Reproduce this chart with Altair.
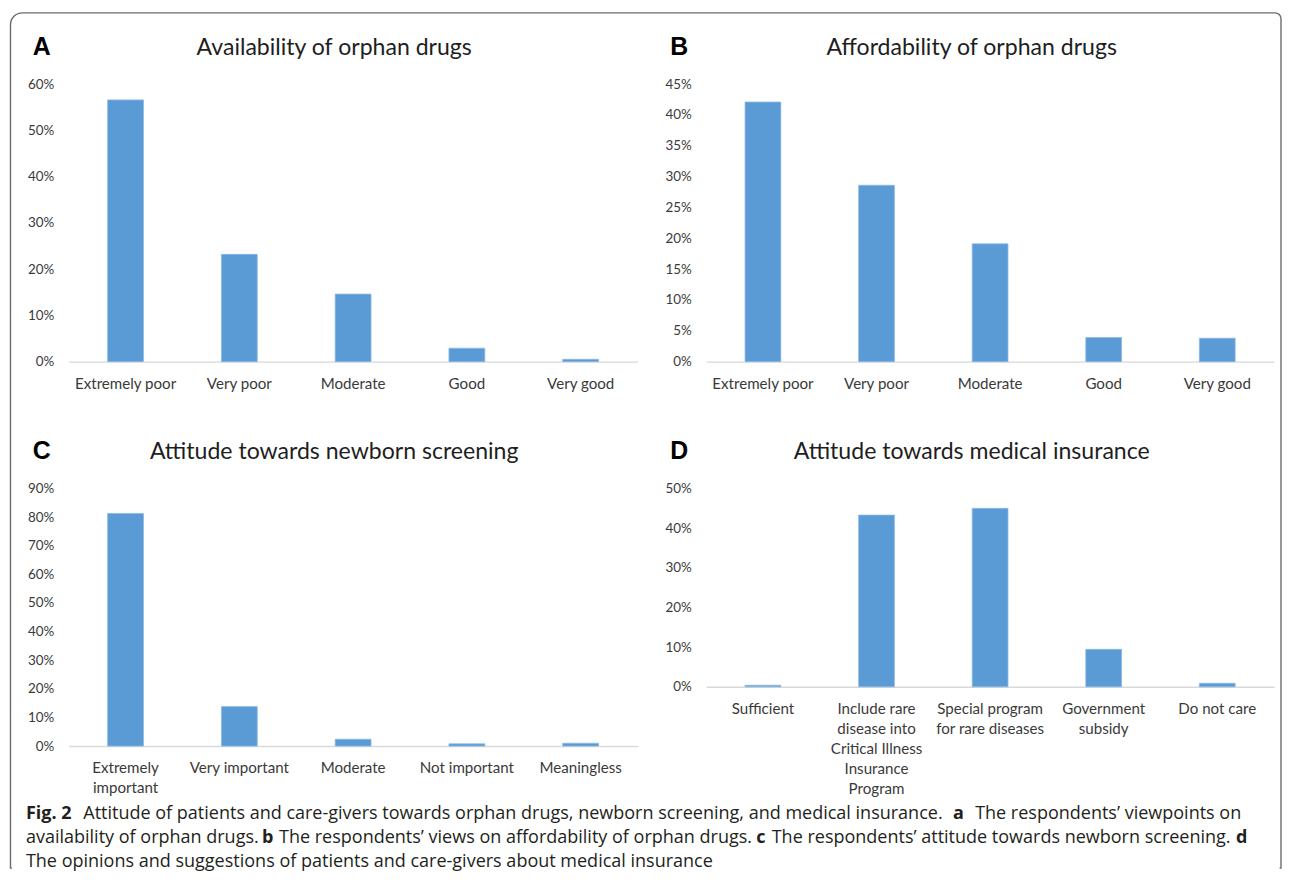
import altair as alt
import pandas as pd

# ---------------- data ----------------
cats_a = ["Extremely poor", "Very poor", "Moderate", "Good", "Very good"]
vals_a = [0.566, 0.232, 0.146, 0.029, 0.005]
ticks_a = [0.0, 0.1, 0.2, 0.3, 0.4, 0.5, 0.6]

cats_b = ["Extremely poor", "Very poor", "Moderate", "Good", "Very good"]
vals_b = [0.421, 0.286, 0.191, 0.039, 0.038]
ticks_b = [0.0, 0.05, 0.10, 0.15, 0.20, 0.25, 0.30, 0.35, 0.40, 0.45]

cats_c = ["Extremely|important", "Very important", "Moderate", "Not important", "Meaningless"]
vals_c = [0.813, 0.138, 0.024, 0.008, 0.010]
ticks_c = [0.0, 0.1, 0.2, 0.3, 0.4, 0.5, 0.6, 0.7, 0.8, 0.9]

cats_d = ["Sufficient",
          "Include rare|disease into|Critical Illness|Insurance|Program",
          "Special program|for rare diseases",
          "Government|subsidy",
          "Do not care"]
vals_d = [0.004, 0.433, 0.450, 0.0945, 0.009]
ticks_d = [0.0, 0.1, 0.2, 0.3, 0.4, 0.5]

titles = ["Availability of orphan drugs", "Affordability of orphan drugs",
          "Attitude towards newborn screening", "Attitude towards medical insurance"]
letters = ["A", "B", "C", "D"]

caption_runs = [
    # (text, bold, line)
    ("Fig. 2", True, 0),
    ("Attitude of patients and care-givers towards orphan drugs, newborn screening, and medical insurance.", False, 0),
    ("a", True, 0),
    ("The respondents\u2019 viewpoints on", False, 0),
    ("availability of orphan drugs.", False, 1),
    ("b", True, 1),
    ("The respondents\u2019 views on affordability of orphan drugs.", False, 1),
    ("c", True, 1),
    ("The respondents\u2019 attitude towards newborn screening.", False, 1),
    ("d", True, 1),
    ("The opinions and suggestions of patients and care-givers about medical insurance", False, 2),
]

# ---------------- layout / style (not data) ----------------
# (x, align) of each caption run in page px
caption_pos = [(25, "left"), (82.7, "left"), (957.3, "left"), (1247, "right"),
               (25, "left"), (262.5, "left"), (279.5, "left"), (759.4, "left"),
               (1236.3, "right"), (1253.3, "right"), (25, "left")]
caption_baselines = [822, 846, 869.5]

BAR = "#5B9BD5"
FONT = "Lato"
LABEL_COLOR = "#3a3a3a"
TITLE_COLOR = "#1e1e1e"
CAP_FONT = "Open Sans"
CAP_SIZE = 18.1


def txt(s, x, y, size, font, weight="normal", color="#222222", align="left"):
    return alt.Chart(pd.DataFrame({"t": [s]})).mark_text(
        font=font, fontSize=size, fontWeight=weight, color=color,
        align=align, baseline="alphabetic"
    ).encode(text="t:N", x=alt.value(x), y=alt.value(y))


def panel(cats, vals, ymax, ticks, title, letter, w, h, extra=None):
    df = pd.DataFrame({"cat": cats, "val": vals})
    bars = alt.Chart(df).mark_bar(color=BAR, stroke="#8ab8e6", strokeWidth=0.8).encode(
        x=alt.X("cat:N", sort=cats, title=None,
                scale=alt.Scale(paddingInner=0.685, paddingOuter=0.3425),
                axis=alt.Axis(labelAngle=0, labelFont=FONT, labelFontSize=15.2,
                              labelColor=LABEL_COLOR, labelPadding=15, ticks=False,
                              domainColor="#D9D9D9", domainWidth=1.5, grid=False,
                              labelExpr="split(datum.label, '|')", labelLineHeight=20,
                              labelLimit=0)),
        y=alt.Y("val:Q", title=None,
                scale=alt.Scale(domain=[0, ymax], nice=False, zero=True),
                axis=alt.Axis(values=ticks, format=".0%", domain=False, ticks=False,
                              grid=False, labelPadding=15, labelFont=FONT,
                              labelFontSize=13.5, labelColor=LABEL_COLOR)),
    )
    layers = [bars,
              txt(title, 267, -29.5, 23.2, FONT, color=TITLE_COLOR, align="center"),
              txt(letter, -36, -29.5, 25, "Liberation Sans", weight="bold", color="#000000")]
    if extra:
        layers += extra
    return alt.layer(*layers).properties(width=w, height=h)


# border + caption are drawn in panel C's coordinate frame (origin = page 68, 489.3)
OX, OY = 68, 489.3
RECT_L, RECT_R, RECT_T, RECT_B = 9.5, 1287, 11, 871
one = pd.DataFrame({"k": [0]})
extra_c = []
extra_c.append(alt.Chart(one).mark_rect(
    fill=None, stroke="#6b6b6b", strokeWidth=1.4,
    cornerRadiusTopLeft=12, cornerRadiusTopRight=6
).encode(x=alt.value(RECT_L - OX), x2=alt.value(RECT_R - OX),
         y=alt.value(RECT_T - OY), y2=alt.value(RECT_B - OY)))
# hide the bottom edge of the frame (the reference frame continues below the picture)
extra_c.append(alt.Chart(one).mark_rule(color="white", strokeWidth=3).encode(
    x=alt.value(RECT_L + 1.5 - OX), x2=alt.value(RECT_R - 1.5 - OX),
    y=alt.value(RECT_B - OY)))
for (s, bold, line), (x, al) in zip(caption_runs, caption_pos):
    extra_c.append(txt(s, x - OX, caption_baselines[line] - OY, CAP_SIZE, CAP_FONT,
                       weight="bold" if bold else "normal", color="#231f20", align=al))

pa = panel(cats_a, vals_a, 0.6, ticks_a, titles[0], letters[0], 572, 279)
pb = panel(cats_b, vals_b, 0.45, ticks_b, titles[1], letters[1], 571, 279)
pc = panel(cats_c, vals_c, 0.9, ticks_c, titles[2], letters[2], 572, 259, extra_c)
pd_ = panel(cats_d, vals_d, 0.5, ticks_d, titles[3], letters[3], 571, 199.4)

chart = alt.concat(pa, pb, pc, pd_, columns=2,
                   spacing={"row": 127.6, "column": 69}).properties(
    bounds="flush",
    padding={"left": 1, "top": 1.2, "right": 0, "bottom": 0},
).configure_view(stroke=None)

chart.save("out.html", embed_options={"renderer": "svg", "actions": False})
